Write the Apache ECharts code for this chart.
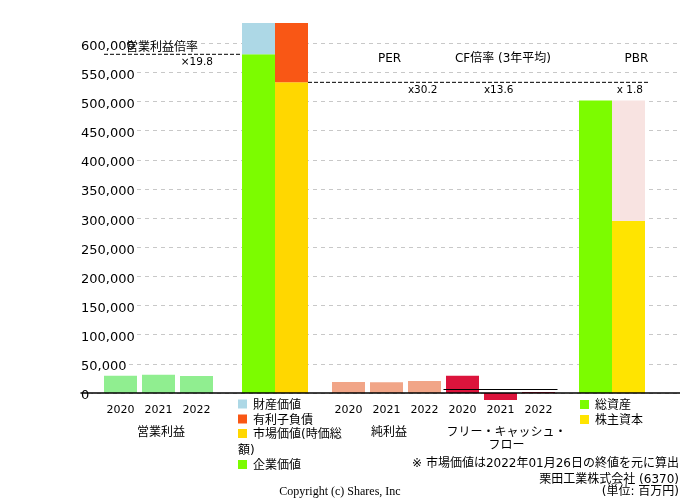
<!DOCTYPE html>
<html>
<head>
<meta charset="utf-8">
<script src="https://cdn.jsdelivr.net/npm/echarts@6/dist/echarts.min.js"></script>
<style>
html, body { margin: 0; padding: 0; background: #fff; }
#chart { width: 680px; height: 500px; }
</style>
</head>
<body>
<div id="chart"></div>
<script>
// 年度
const years = ['2020', '2021', '2022']
// 営業利益・純利益・フリーキャッシュフロー (百万円)
const operatingProfit = [29700, 31400, 29200]
const netIncome = [18900, 18300, 20600]
const freeCashFlow = [29700, -12000, 1700]
// 企業価値の内訳
const enterpriseValue = 581100
const propertyValue = 53700
const marketCap = 533000
const interestDebt = 101800
// PBR
const totalAssets = 501700
const equity = 295000
// 縦軸
const yMin = 0
const yMax = 634800
const yInterval = 50000
// 倍率
const ratioNames = ['営業利益倍率', 'PER', 'CF倍率 (3年平均)', 'PBR']
const ratioValues = ['×19.8', 'x30.2', 'x13.6', 'x 1.8']
// 凡例
const evLegend = ['財産価値', '有利子負債', '市場価値(時価総額)', '企業価値']
const pbrLegend = ['総資産', '株主資本']
const notes = ['※ 市場価値は2022年01月26日の終値を元に算出', '栗田工業株式会社 (6370)', '(単位: 百万円)']

const FONT = "'DejaVu Sans', 'Noto Sans CJK JP', sans-serif"
const C = {
  op: '#90EE90', ni: '#F1A587', fcf: '#DC143C',
  ev: '#7CFC00', prop: '#ADD8E6', mc: '#FFD700', debt: '#F95715',
  assets: '#7CFC00', assetsBg: '#F8E3E1', equity: '#FFE400'
}

const chart = echarts.init(document.getElementById('chart'))

// グリッド共通
const gTop = 23, gBottom = 107
const grids = [
  { left: 81, right: 0 },        // 0 背景(目盛り)
  { left: 101.5, width: 114 },   // 1 営業利益
  { left: 242, width: 66 },      // 2 企業価値
  { left: 329.5, width: 114 },   // 3 純利益
  { left: 443.5, width: 114 },   // 4 FCF
  { left: 579, width: 66 },      // 5 PBR
  { left: 104, width: 138 },     // 6 営業利益倍率の線
  { left: 308, width: 340 }      // 7 市場価値の線
].map(g => Object.assign({ top: gTop, bottom: gBottom }, g))

const yAxes = grids.map((g, i) => ({
  gridIndex: i, type: 'value', min: yMin, max: yMax, show: false
}))
yAxes[0] = {
  gridIndex: 0, type: 'value', min: yMin, max: yMax, interval: yInterval,
  axisLine: { show: false }, axisTick: { show: false },
  axisLabel: {
    inside: true, margin: 0, showMaxLabel: false,
    backgroundColor: '#fff', padding: [0, 2, 0, 0],
    formatter: v => '{v|' + v.toLocaleString('en-US') + '}',
    rich: { v: { fontSize: 13, color: '#000', fontFamily: FONT, padding: [6, 0, 0, 0] } }
  },
  splitLine: { showMaxLine: false, lineStyle: { color: '#c8c8c8', type: [4, 4], width: 1 } }
}

const yearAxis = (gi, name, pad) => ({
  gridIndex: gi, type: 'category', data: years,
  axisLine: { show: false }, axisTick: { show: false },
  axisLabel: { margin: 12, fontSize: 11, color: '#000', fontFamily: FONT },
  name, nameLocation: 'middle', nameGap: 33,
  nameTextStyle: { fontSize: 12, color: '#000', fontFamily: FONT, lineHeight: 13, padding: [0, 0, 0, pad] }
})

const xAxes = [
  { gridIndex: 0, type: 'category', data: [''], z: 3, axisTick: { show: false }, axisLabel: { show: false },
    axisLine: { lineStyle: { color: '#000', width: 1.5 } } },
  yearAxis(1, '営業利益', 5),
  { gridIndex: 2, type: 'category', data: ['EV'], show: false },
  yearAxis(3, '純利益', 5),
  yearAxis(4, 'フリー・キャッシュ・\nフロー', 12),
  { gridIndex: 5, type: 'category', data: pbrLegend, show: false },
  { gridIndex: 6, type: 'category', data: ['s', 'e'], boundaryGap: false, show: false },
  { gridIndex: 7, type: 'category', data: ['s', 'e'], boundaryGap: false, show: false }
]

const dashLine = (gi, v) => ({
  type: 'line', xAxisIndex: gi, yAxisIndex: gi, data: [v, v], symbol: 'none', silent: true,
  lineStyle: { color: '#000', width: 1, type: [4, 2] }
})
const bar = (gi, name, data, color, extra) => Object.assign({
  type: 'bar', name, xAxisIndex: gi, yAxisIndex: gi, data, barWidth: 33,
  itemStyle: { color }
}, extra || {})

const series = [
  dashLine(6, enterpriseValue),
  dashLine(7, marketCap),
  bar(1, '営業利益', operatingProfit, C.op),
  bar(2, evLegend[3], [enterpriseValue], C.ev, { stack: 'ev', barGap: 0 }),
  bar(2, evLegend[0], [propertyValue], C.prop, { stack: 'ev', barGap: 0 }),
  bar(2, evLegend[2], [marketCap], C.mc, { stack: 'mc', barGap: 0 }),
  bar(2, evLegend[1], [interestDebt], C.debt, { stack: 'mc', barGap: 0 }),
  bar(3, '純利益', netIncome, C.ni),
  bar(4, 'フリー・キャッシュ・フロー', freeCashFlow, C.fcf, {
    clip: false,
    markLine: {
      silent: true, symbol: ['none', 'none'], label: { show: false },
      lineStyle: { color: '#000', type: 'solid', width: 1.2 },
      data: [{ type: 'average' }]
    }
  }),
  bar(5, pbrLegend[0], [totalAssets, '-'], C.assets, { barGap: '-100%' }),
  bar(5, '負債・純資産', ['-', totalAssets], C.assetsBg, { barGap: '-100%' }),
  bar(5, pbrLegend[1], ['-', equity], C.equity, { barGap: '-100%' })
]

// テキスト (中央揃えで少し上に寄るので +1.5)
const txt = (text, x, y, align, size, family) => ({
  type: 'text', x, y: y + 1.5, silent: true, z: 10,
  style: {
    text, fill: '#000', fontSize: size, fontFamily: family || FONT,
    align, textAlign: align, verticalAlign: 'middle', textVerticalAlign: 'middle'
  }
})
const box = (x, y, color) => ({
  type: 'rect', silent: true, z: 10, shape: { x, y: y - 4.5, width: 9, height: 9 }, style: { fill: color }
})

const graphics = [
  txt(ratioNames[0], 126, 46, 'left', 12),
  txt(ratioValues[0], 213, 60.5, 'right', 10.5),
  txt(ratioNames[1], 389.5, 57.5, 'center', 12),
  txt(ratioNames[2], 503, 57.5, 'center', 12),
  txt(ratioNames[3], 636.5, 57.5, 'center', 12),
  txt(ratioValues[1], 437.5, 88.5, 'right', 10.5),
  txt(ratioValues[2], 513.5, 88.5, 'right', 10.5),
  txt(ratioValues[3], 643, 88.5, 'right', 10.5),
  // 凡例 (企業価値)
  box(238, 404, C.prop), txt(evLegend[0], 253, 404, 'left', 12),
  box(238, 419, C.debt), txt(evLegend[1], 253, 419, 'left', 12),
  box(238, 433.5, C.mc), txt(evLegend[2].slice(0, 8), 253, 433.5, 'left', 12),
  txt(evLegend[2].slice(8), 238, 449, 'left', 12),
  box(238, 464.5, C.ev), txt(evLegend[3], 253, 464.5, 'left', 12),
  // 凡例 (PBR)
  box(580, 404.5, C.assets), txt(pbrLegend[0], 595, 404.5, 'left', 12),
  box(580, 419.5, C.equity), txt(pbrLegend[1], 595, 419.5, 'left', 12),
  // 注記
  txt(notes[0], 679, 462, 'right', 12),
  txt(notes[1], 679, 478, 'right', 12),
  txt(notes[2], 679, 490.5, 'right', 12),
  txt('Copyright (c) Shares, Inc', 340, 490.5, 'center', 12, "'Liberation Serif', 'DejaVu Serif', serif")
]

chart.setOption({
  animation: false,
  textStyle: { fontFamily: FONT },
  grid: grids,
  xAxis: xAxes,
  yAxis: yAxes,
  series,
  graphic: graphics
})
</script>
</body>
</html>
